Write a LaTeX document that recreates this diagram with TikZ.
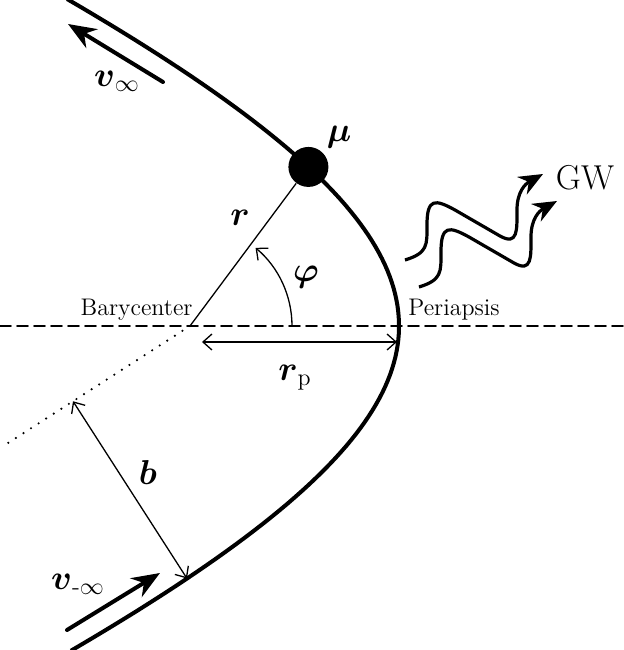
\documentclass[tikz,border=0pt]{standalone}
\usepackage{amsmath, amssymb}
\usepackage{fontspec}
\usepackage{tikz}
\usetikzlibrary{calc, arrows.meta}
\usepackage{tkz-euclide}
\usepackage{xcolor}

\tikzset{
  orbit/.style={line width=2pt},
  thinline/.style={line width=0.65pt},
  bigarrow/.style={line width=2pt, -{Stealth[length=14pt, width=11pt]}},
  barbs/.style={thinline, {Straight Barb[length=4.5pt, width=8pt]}-{Straight Barb[length=4.5pt, width=8pt]}},
  gwave/.style={line width=1.6pt, -{Stealth[length=12pt, width=10pt]}},
  mathlabel/.style={inner sep=0pt, font=\LARGE},
  textlabel/.style={inner sep=0pt, font=\large},
}

\begin{document}
\begin{tikzpicture}[x=0.5pt, y=0.5pt]
            \useasboundingbox (0,0) rectangle (624,650);
            \tkzDefPoints{190/324/F, 399/324/P, 0/324/L, 624/324/R, 5/205/D}
            \tkzDefPoints{202/308/A, 397/308/B}
            \tkzDefPoints{163/568/V1, 68/626/V2, 67/20/W1, 160/77/W2}
            \coordinate (M) at ({399+740*(1-cosh(0.49))}, {324+312*sinh(0.49)});
            \coordinate (E) at ({399+740*(1-cosh(-0.74))}, {324+312*sinh(-0.74)});
            % orbit
            \draw[orbit] plot[domain=-0.91:0.915, samples=100, variable=\t]
                ({399+740*(1-cosh(\t))}, {324+312*sinh(\t)});
            \tkzDrawSegment[dash pattern=on 5.5pt off 3pt, line width=0.8pt](L,R)
            \tkzDrawSegment[dash pattern=on 0pt off 4.5pt, line cap=round, line width=1.2pt](F,D)
            \node[circle, fill=black, minimum size=20pt, inner sep=0pt] (mu) at (M) {};
            \draw[thinline] (F) -- (mu);
            \coordinate (Phi) at ($(F)+(50:100)$);
            \tkzPicAngle[draw, thinline, -{Straight Barb[length=4.5pt, width=8pt]}, angle radius=51pt](P,F,Phi)
            \tkzDrawSegment[barbs](A,B)
            \coordinate (bfoot) at ($(F)!(E)!(D)$);
            \tkzDrawSegment[barbs](bfoot,E)
            \tkzDrawSegment[bigarrow](V1,V2)
            \tkzDrawSegment[bigarrow](W1,W2)
            % gravitational waves
            \foreach \dx/\dy in {0/0, 14/-27}
              \draw[gwave, shift={(\dx,\dy)}] (405,390) .. controls (428,397) and (427,405) .. (427,425)
                .. controls (427,452) and (435,451) .. (455,440) -- (500,414)
                .. controls (518,404) and (517,420) .. (517,440)
                .. controls (517,458) and (525,466) .. (543,476);
            % labels
            \node[textlabel, anchor=base east] (bary) at (193,335) {Barycenter};
            \node[textlabel, anchor=base west] (peri) at (408,335) {Periapsis};
            \node[inner sep=0pt, font=\LARGE] (gw) at (585,472) {GW};
            \node[mathlabel] (mulabel) at (339,513) {$\boldsymbol{\mu}$};
            \node[mathlabel] (rlabel) at (240,432) {$\boldsymbol{r}$};
            \node[mathlabel] (philabel) at (306,373) {$\boldsymbol{\varphi}$};
            \node[mathlabel] (rplabel) at (295,272) {$\boldsymbol{r}_{\mathrm{p}}$};
            \node[mathlabel] (blabel) at (148,177) {$\boldsymbol{b}$};
            \node[mathlabel] (vinf) at (117,569) {$\boldsymbol{v}_{\infty}$};
            \node[mathlabel] (vminf) at (78,66) {$\boldsymbol{v}_{\text{-}\infty}$};
        \end{tikzpicture}
\end{document}
